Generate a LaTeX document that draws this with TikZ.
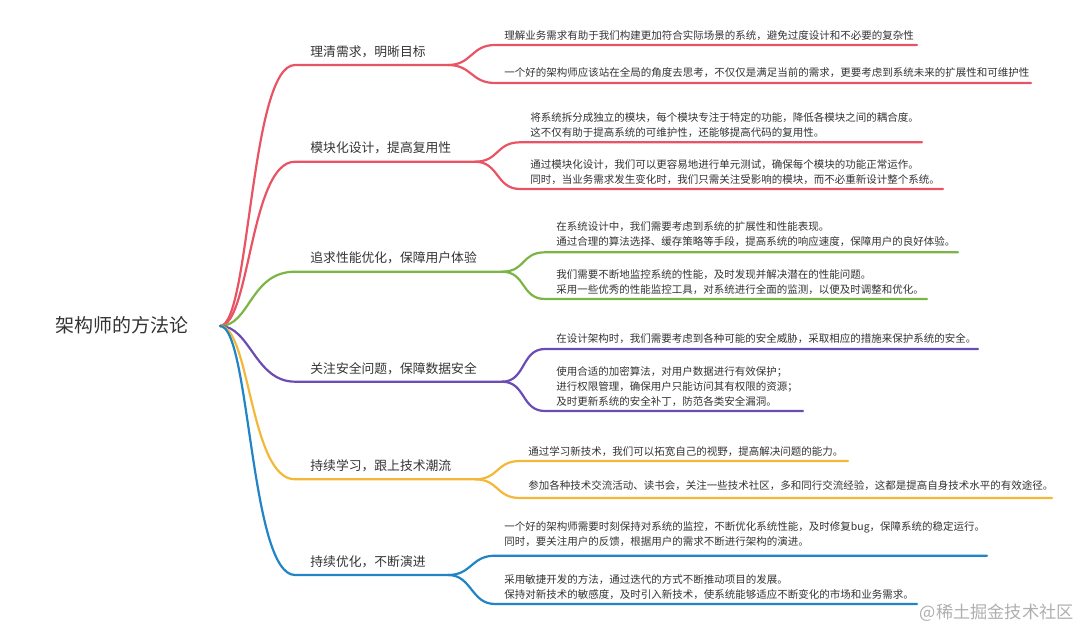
\documentclass[tikz,border=0pt]{standalone}
\usepackage{fontspec}
\newfontfamily\cjk{Noto Sans CJK SC}
\definecolor{mmred}{RGB}{233,84,100}
\definecolor{mmgreen}{RGB}{124,181,70}
\definecolor{mmpurple}{RGB}{106,76,180}
\definecolor{mmyellow}{RGB}{244,184,56}
\definecolor{mmblue}{RGB}{32,132,198}
\definecolor{mmtext}{RGB}{51,51,51}
\definecolor{mmmark}{RGB}{175,175,175}

\begin{document}
\begin{tikzpicture}[
  x=0.5pt,
  y=-0.5pt,
  every node/.style={inner sep=0pt, text=mmtext},
  rootlabel/.style={font=\cjk\fontsize{9.5}{11}\selectfont, anchor=west},
  topic/.style={font=\cjk\fontsize{6.4}{8}\selectfont, anchor=west},
  leaf/.style={font=\cjk\fontsize{5.25}{7.5}\selectfont, anchor=west, align=left},
  branch/.style={line width=1.1pt, line cap=round},
  redbranch/.style={branch, draw=mmred},
  greenbranch/.style={branch, draw=mmgreen},
  purplebranch/.style={branch, draw=mmpurple},
  yellowbranch/.style={branch, draw=mmyellow},
  bluebranch/.style={branch, draw=mmblue},
  sitemark/.style={font=\cjk\fontsize{8.6}{10}\selectfont, text=mmmark, anchor=east}
]
\useasboundingbox (0,0) rectangle (1080,630);

% Centre topic; every branch leaves from the hub.
\node[rootlabel] (root) at (55,325) {架构师的方法论};
\coordinate (hub) at (220,326);

% ---------------------------------------------------------------------------
% 1 Requirements
% ---------------------------------------------------------------------------
\node[topic] (t1) at (310,51.7) {理清需求，明晰目标};
\coordinate (t1a) at (295,65);
\coordinate (t1s) at (448,65);
\node[leaf] (l11) at (504,36) {理解业务需求有助于我们构建更加符合实际场景的系统，避免过度设计和不必要的复杂性};
\coordinate (l11a) at (495,45);
\coordinate (l11b) at (917,45);
\node[leaf] (l12) at (504,73) {一个好的架构师应该站在全局的角度去思考，不仅仅是满足当前的需求，更要考虑到系统未来的扩展性和可维护性};
\coordinate (l12a) at (495,83);
\coordinate (l12b) at (1031,83);

\draw[redbranch] (hub) .. controls +(30,0) and +(-45,0) .. (t1a) -- (t1s);
\draw[redbranch] (t1s) .. controls +(24,0) and +(-24,0) .. (l11a) -- (l11b);
\draw[redbranch] (t1s) .. controls +(24,0) and +(-24,0) .. (l12a) -- (l12b);

% ---------------------------------------------------------------------------
% 2 Modular design
% ---------------------------------------------------------------------------
\node[topic] (t2) at (310,147.7) {模块化设计，提高复用性};
\coordinate (t2a) at (295,161.7);
\coordinate (t2s) at (475,161.7);
\node[leaf] (l21) at (530,124.7) {将系统拆分成独立的模块，每个模块专注于特定的功能，降低各模块之间的耦合度。\\这不仅有助于提高系统的可维护性，还能够提高代码的复用性。};
\coordinate (l21a) at (520,142.3);
\coordinate (l21b) at (922,142.3);
\node[leaf] (l22) at (530,172.2) {通过模块化设计，我们可以更容易地进行单元测试，确保每个模块的功能正常运作。\\同时，当业务需求发生变化时，我们只需关注受影响的模块，而不必重新设计整个系统。};
\coordinate (l22a) at (520,189);
\coordinate (l22b) at (943,189);

\draw[redbranch] (hub) .. controls +(30,0) and +(-45,0) .. (t2a) -- (t2s);
\draw[redbranch] (t2s) .. controls +(24,0) and +(-24,0) .. (l21a) -- (l21b);
\draw[redbranch] (t2s) .. controls +(24,0) and +(-24,0) .. (l22a) -- (l22b);

% ---------------------------------------------------------------------------
% 3 Performance
% ---------------------------------------------------------------------------
\node[topic] (t3) at (310,257.7) {追求性能优化，保障用户体验};
\coordinate (t3a) at (295,271.7);
\coordinate (t3s) at (502,271.7);
\node[leaf] (l31) at (556,234) {在系统设计中，我们需要考虑到系统的扩展性和性能表现。\\通过合理的算法选择、缓存策略等手段，提高系统的响应速度，保障用户的良好体验。};
\coordinate (l31a) at (545,252.3);
\coordinate (l31b) at (958,252.3);
\node[leaf] (l32) at (556,281.7) {我们需要不断地监控系统的性能，及时发现并解决潜在的性能问题。\\采用一些优秀的性能监控工具，对系统进行全面的监测，以便及时调整和优化。};
\coordinate (l32a) at (545,299);
\coordinate (l32b) at (927,299);

\draw[greenbranch] (hub) .. controls +(30,0) and +(-45,0) .. (t3a) -- (t3s);
\draw[greenbranch] (t3s) .. controls +(24,0) and +(-24,0) .. (l31a) -- (l31b);
\draw[greenbranch] (t3s) .. controls +(24,0) and +(-24,0) .. (l32a) -- (l32b);

% ---------------------------------------------------------------------------
% 4 Security
% ---------------------------------------------------------------------------
\node[topic] (t4) at (310,368.3) {关注安全问题，保障数据安全};
\coordinate (t4a) at (295,381.7);
\coordinate (t4s) at (502,381.7);
\node[leaf] (l41) at (556,338.3) {在设计架构时，我们需要考虑到各种可能的安全威胁，采取相应的措施来保护系统的安全。};
\coordinate (l41a) at (545,349);
\coordinate (l41b) at (978,349);
\node[leaf] (l42) at (556,386.7) {使用合适的加密算法，对用户数据进行有效保护；\\进行权限管理，确保用户只能访问其有权限的资源；\\及时更新系统的安全补丁，防范各类安全漏洞。};
\coordinate (l42a) at (545,411);
\coordinate (l42b) at (803,411);

\draw[purplebranch] (hub) .. controls +(30,0) and +(-40,0) .. (t4a) -- (t4s);
\draw[purplebranch] (t4s) .. controls +(24,0) and +(-24,0) .. (l41a) -- (l41b);
\draw[purplebranch] (t4s) .. controls +(24,0) and +(-24,0) .. (l42a) -- (l42b);

% ---------------------------------------------------------------------------
% 5 Learning
% ---------------------------------------------------------------------------
\node[topic] (t5) at (310,465.7) {持续学习，跟上技术潮流};
\coordinate (t5a) at (295,479.3);
\coordinate (t5s) at (475,479.3);
\node[leaf] (l51) at (528,451.4) {通过学习新技术，我们可以拓宽自己的视野，提高解决问题的能力。};
\coordinate (l51a) at (520,461);
\coordinate (l51b) at (848,461);
\node[leaf] (l52) at (528,485.4) {参加各种技术交流活动、读书会，关注一些技术社区，多和同行交流经验，这都是提高自身技术水平的有效途径。};
\coordinate (l52a) at (520,498);
\coordinate (l52b) at (1052,498);

\draw[yellowbranch] (hub) .. controls +(30,0) and +(-45,0) .. (t5a) -- (t5s);
\draw[yellowbranch] (t5s) .. controls +(24,0) and +(-24,0) .. (l51a) -- (l51b);
\draw[yellowbranch] (t5s) .. controls +(24,0) and +(-24,0) .. (l52a) -- (l52b);

% ---------------------------------------------------------------------------
% 6 Continuous improvement
% ---------------------------------------------------------------------------
\node[topic] (t6) at (310,561.7) {持续优化，不断演进};
\coordinate (t6a) at (295,575);
\coordinate (t6s) at (448,575);
\node[leaf] (l61) at (504,534) {一个好的架构师需要时刻保持对系统的监控，不断优化系统性能，及时修复bug，保障系统的稳定运行。\\同时，要关注用户的反馈，根据用户的需求不断进行架构的演进。};
\coordinate (l61a) at (495,555.7);
\coordinate (l61b) at (987,555.7);
\node[leaf] (l62) at (504,587) {采用敏捷开发的方法，通过迭代的方式不断推动项目的发展。\\保持对新技术的敏感度，及时引入新技术，使系统能够适应不断变化的市场和业务需求。};
\coordinate (l62a) at (495,604);
\coordinate (l62b) at (917,604);

\draw[bluebranch] (hub) .. controls +(30,0) and +(-45,0) .. (t6a) -- (t6s);
\draw[bluebranch] (t6s) .. controls +(24,0) and +(-24,0) .. (l61a) -- (l61b);
\draw[bluebranch] (t6s) .. controls +(24,0) and +(-24,0) .. (l62a) -- (l62b);

% Site mark, bottom right.
\node[sitemark] (site) at (1074,613) {@稀土掘金技术社区};

\end{tikzpicture}
\end{document}
